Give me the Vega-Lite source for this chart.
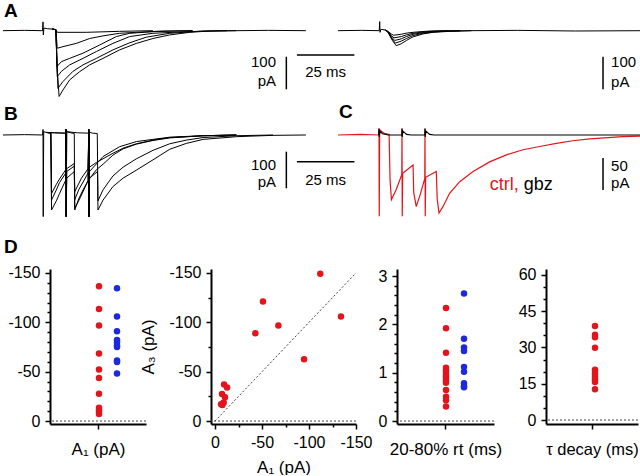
{
"$schema":"https://vega.github.io/schema/vega-lite/v6.json",
"padding":0,
"autosize":{"type":"pad"},
"background":"white",
"config":{
 "view":{"stroke":null},
 "font":"Liberation Sans",
 "text":{"font":"Liberation Sans","color":"black"},
 "title":{"font":"Liberation Sans","color":"black"},
 "axis":{"domainColor":"black","domainWidth":2,"tickColor":"black","tickWidth":1.5,"labelFont":"Liberation Sans","labelFontSize":16,"labelColor":"black","titleFont":"Liberation Sans","titleFontSize":17,"titleFontWeight":"normal","titleColor":"black","grid":false,"labelAngle":0}
},
"datasets":{
"A_left":[
{"trace":1,"t":-17.4,"pA":0},{"trace":1,"t":-8,"pA":1},{"trace":1,"t":-0.2,"pA":0},{"trace":1,"t":0,"pA":27},{"trace":1,"t":0.15,"pA":-13},{"trace":1,"t":0.4,"pA":8},{"trace":1,"t":2,"pA":6},{"trace":1,"t":4,"pA":5},{"trace":1,"t":5.6,"pA":3},{"trace":1,"t":6.2,"pA":-120},{"trace":1,"t":7,"pA":-202},{"trace":1,"t":8.7,"pA":-182},{"trace":1,"t":11.6,"pA":-151},{"trace":1,"t":15.9,"pA":-126},{"trace":1,"t":20.3,"pA":-105},{"trace":1,"t":26.1,"pA":-85},{"trace":1,"t":33.3,"pA":-59},{"trace":1,"t":40.6,"pA":-39},{"trace":1,"t":47.8,"pA":-24},{"trace":1,"t":55.1,"pA":-13},{"trace":1,"t":63.8,"pA":-5},{"trace":1,"t":72.5,"pA":-1},{"trace":1,"t":84.1,"pA":0},{"trace":1,"t":98,"pA":1},{"trace":1,"t":114.3,"pA":0},
{"trace":2,"t":4,"pA":5},{"trace":2,"t":5.6,"pA":3},{"trace":2,"t":6.5,"pA":-177},{"trace":2,"t":8.7,"pA":-156},{"trace":2,"t":13,"pA":-125},{"trace":2,"t":17.4,"pA":-105},{"trace":2,"t":23.2,"pA":-85},{"trace":2,"t":30.4,"pA":-59},{"trace":2,"t":37.7,"pA":-37},{"trace":2,"t":44.9,"pA":-20},{"trace":2,"t":55.1,"pA":-8},{"trace":2,"t":69.6,"pA":-1},{"trace":2,"t":84.1,"pA":0},
{"trace":3,"t":4,"pA":5},{"trace":3,"t":5.6,"pA":3},{"trace":3,"t":6.2,"pA":-141},{"trace":3,"t":8,"pA":-125},{"trace":3,"t":11.6,"pA":-105},{"trace":3,"t":17.4,"pA":-85},{"trace":3,"t":23.2,"pA":-64},{"trace":3,"t":30.4,"pA":-39},{"trace":3,"t":37.7,"pA":-18},{"trace":3,"t":47.8,"pA":-8},{"trace":3,"t":62.3,"pA":-3},{"trace":3,"t":80,"pA":0},
{"trace":4,"t":4,"pA":5},{"trace":4,"t":5.6,"pA":3},{"trace":4,"t":6.1,"pA":-110},{"trace":4,"t":8,"pA":-95},{"trace":4,"t":11.6,"pA":-85},{"trace":4,"t":17.4,"pA":-69},{"trace":4,"t":24.6,"pA":-44},{"trace":4,"t":31.9,"pA":-18},{"trace":4,"t":37.7,"pA":-8},{"trace":4,"t":47.8,"pA":-3},{"trace":4,"t":65,"pA":0},
{"trace":5,"t":4,"pA":5},{"trace":5,"t":5.6,"pA":3},{"trace":5,"t":6.2,"pA":-54},{"trace":5,"t":8.7,"pA":-49},{"trace":5,"t":14.5,"pA":-39},{"trace":5,"t":20.3,"pA":-24},{"trace":5,"t":26.1,"pA":-16},{"trace":5,"t":33.3,"pA":-8},{"trace":5,"t":40.6,"pA":-5},{"trace":5,"t":52.2,"pA":-1},{"trace":5,"t":65,"pA":0},
{"trace":6,"t":4,"pA":5},{"trace":6,"t":5.6,"pA":3},{"trace":6,"t":6.2,"pA":-5},{"trace":6,"t":18.8,"pA":-5},{"trace":6,"t":33.3,"pA":-2},{"trace":6,"t":47.8,"pA":0}
],
"A_right":[
{"trace":1,"t":-18.1,"pA":0},{"trace":1,"t":-8,"pA":1},{"trace":1,"t":-0.2,"pA":0},{"trace":1,"t":0,"pA":28},{"trace":1,"t":0.15,"pA":-5},{"trace":1,"t":0.5,"pA":4},{"trace":1,"t":2.5,"pA":2},{"trace":1,"t":3.6,"pA":-5},{"trace":1,"t":5.5,"pA":-30},{"trace":1,"t":7.2,"pA":-46},{"trace":1,"t":9.4,"pA":-40},{"trace":1,"t":11.6,"pA":-30},{"trace":1,"t":14.5,"pA":-19},{"trace":1,"t":18.8,"pA":-10},{"trace":1,"t":23.2,"pA":-5},{"trace":1,"t":30.4,"pA":-2},{"trace":1,"t":40,"pA":0},{"trace":1,"t":60,"pA":1},{"trace":1,"t":85,"pA":-1},{"trace":1,"t":114.5,"pA":0},
{"trace":2,"t":2.5,"pA":2},{"trace":2,"t":3.6,"pA":-4},{"trace":2,"t":5.3,"pA":-25},{"trace":2,"t":6.8,"pA":-38},{"trace":2,"t":9.4,"pA":-32},{"trace":2,"t":11.6,"pA":-24},{"trace":2,"t":14.5,"pA":-15},{"trace":2,"t":18.8,"pA":-8},{"trace":2,"t":23.2,"pA":-4},{"trace":2,"t":30.4,"pA":-1},{"trace":2,"t":40,"pA":0},
{"trace":3,"t":2.5,"pA":2},{"trace":3,"t":3.6,"pA":-4},{"trace":3,"t":5.2,"pA":-20},{"trace":3,"t":6.5,"pA":-30},{"trace":3,"t":9.4,"pA":-25},{"trace":3,"t":11.6,"pA":-18},{"trace":3,"t":14.5,"pA":-11},{"trace":3,"t":18.8,"pA":-6},{"trace":3,"t":23.2,"pA":-3},{"trace":3,"t":35,"pA":0},
{"trace":4,"t":2.5,"pA":2},{"trace":4,"t":3.6,"pA":-3},{"trace":4,"t":5,"pA":-15},{"trace":4,"t":6.2,"pA":-22},{"trace":4,"t":9.4,"pA":-18},{"trace":4,"t":11.6,"pA":-13},{"trace":4,"t":14.5,"pA":-8},{"trace":4,"t":18.8,"pA":-4},{"trace":4,"t":25,"pA":-1},{"trace":4,"t":35,"pA":0},
{"trace":5,"t":2.5,"pA":2},{"trace":5,"t":3.6,"pA":-2},{"trace":5,"t":5,"pA":-10},{"trace":5,"t":6,"pA":-14},{"trace":5,"t":9.4,"pA":-11},{"trace":5,"t":12,"pA":-7},{"trace":5,"t":16,"pA":-4},{"trace":5,"t":22,"pA":-1},{"trace":5,"t":30,"pA":0}
],
"B_tr":[
{"trace":1,"t":-17.4,"pA":0},{"trace":1,"t":-8,"pA":1},{"trace":1,"t":-0.2,"pA":0},{"trace":1,"t":0,"pA":15},{"trace":1,"t":0.1,"pA":-223},{"trace":1,"t":0.3,"pA":9},{"trace":1,"t":1.5,"pA":7},{"trace":1,"t":3.4,"pA":5},{"trace":1,"t":3.6,"pA":-100},{"trace":1,"t":3.7,"pA":-205},{"trace":1,"t":5.8,"pA":-180},{"trace":1,"t":7.2,"pA":-160},{"trace":1,"t":9.9,"pA":-123},{"trace":1,"t":10,"pA":15},{"trace":1,"t":10.1,"pA":-223},{"trace":1,"t":10.3,"pA":-118},{"trace":1,"t":13.6,"pA":-100},{"trace":1,"t":13.8,"pA":-200},{"trace":1,"t":15.5,"pA":-180},{"trace":1,"t":19.6,"pA":-125},{"trace":1,"t":19.9,"pA":15},{"trace":1,"t":20,"pA":-223},{"trace":1,"t":20.2,"pA":-118},{"trace":1,"t":23.7,"pA":-100},{"trace":1,"t":23.9,"pA":-205},{"trace":1,"t":26.1,"pA":-178},{"trace":1,"t":30.4,"pA":-141},{"trace":1,"t":34.8,"pA":-118},{"trace":1,"t":40.6,"pA":-96},{"trace":1,"t":47.8,"pA":-68},{"trace":1,"t":55.1,"pA":-39},{"trace":1,"t":62.3,"pA":-23},{"trace":1,"t":69.6,"pA":-12},{"trace":1,"t":84.1,"pA":-4.6},{"trace":1,"t":100,"pA":-1},{"trace":1,"t":114.3,"pA":0},
{"trace":2,"t":1.5,"pA":7},{"trace":2,"t":3.4,"pA":5},{"trace":2,"t":3.7,"pA":-178},{"trace":2,"t":5.8,"pA":-150},{"trace":2,"t":7.2,"pA":-130},{"trace":2,"t":9.9,"pA":-104},{"trace":2,"t":10,"pA":15},{"trace":2,"t":10.1,"pA":-223},{"trace":2,"t":10.3,"pA":-100},{"trace":2,"t":13.6,"pA":-85},{"trace":2,"t":13.8,"pA":-177},{"trace":2,"t":15.5,"pA":-150},{"trace":2,"t":19.6,"pA":-104},{"trace":2,"t":19.9,"pA":15},{"trace":2,"t":20,"pA":-223},{"trace":2,"t":20.2,"pA":-100},{"trace":2,"t":26.1,"pA":-59},{"trace":2,"t":33.3,"pA":-32},{"trace":2,"t":40.6,"pA":-18},{"trace":2,"t":47.8,"pA":-12},{"trace":2,"t":55.1,"pA":-6},{"trace":2,"t":69.6,"pA":-2},{"trace":2,"t":84.1,"pA":0},
{"trace":3,"t":1.5,"pA":7},{"trace":3,"t":5,"pA":6},{"trace":3,"t":9.9,"pA":5},{"trace":3,"t":10,"pA":15},{"trace":3,"t":10.1,"pA":-223},{"trace":3,"t":10.3,"pA":9},{"trace":3,"t":12,"pA":6},{"trace":3,"t":13.6,"pA":4},{"trace":3,"t":13.8,"pA":-205},{"trace":3,"t":15.5,"pA":-175},{"trace":3,"t":17.4,"pA":-150},{"trace":3,"t":19.6,"pA":-125},{"trace":3,"t":19.9,"pA":15},{"trace":3,"t":20,"pA":-223},{"trace":3,"t":20.2,"pA":-120},{"trace":3,"t":23.2,"pA":-95},{"trace":3,"t":26.1,"pA":-80},{"trace":3,"t":30.4,"pA":-55},{"trace":3,"t":34.8,"pA":-38},{"trace":3,"t":40.6,"pA":-25},{"trace":3,"t":47.8,"pA":-15},{"trace":3,"t":55.1,"pA":-8},{"trace":3,"t":69.6,"pA":-2},{"trace":3,"t":84.1,"pA":0},
{"trace":4,"t":1.5,"pA":7},{"trace":4,"t":3.4,"pA":5},{"trace":4,"t":3.7,"pA":-160},{"trace":4,"t":5.8,"pA":-135},{"trace":4,"t":7.2,"pA":-120},{"trace":4,"t":9.9,"pA":-95},{"trace":4,"t":10,"pA":15},{"trace":4,"t":10.1,"pA":-223},{"trace":4,"t":10.3,"pA":-92},{"trace":4,"t":13.6,"pA":-78},{"trace":4,"t":13.8,"pA":-155},{"trace":4,"t":16.7,"pA":-118},{"trace":4,"t":19.6,"pA":-92},{"trace":4,"t":19.9,"pA":15},{"trace":4,"t":20,"pA":-223},{"trace":4,"t":20.2,"pA":-88},{"trace":4,"t":23.2,"pA":-75},{"trace":4,"t":26.1,"pA":-65},{"trace":4,"t":30.4,"pA":-50},{"trace":4,"t":34.8,"pA":-36},{"trace":4,"t":40.6,"pA":-24},{"trace":4,"t":47.8,"pA":-14},{"trace":4,"t":55.1,"pA":-7},{"trace":4,"t":69.6,"pA":-2},{"trace":4,"t":84.1,"pA":0},
{"trace":5,"t":1.5,"pA":7},{"trace":5,"t":5,"pA":6},{"trace":5,"t":9.8,"pA":5},{"trace":5,"t":10,"pA":15},{"trace":5,"t":10.1,"pA":-223},{"trace":5,"t":10.3,"pA":9},{"trace":5,"t":15,"pA":6},{"trace":5,"t":19.8,"pA":5},{"trace":5,"t":19.9,"pA":15},{"trace":5,"t":20,"pA":-223},{"trace":5,"t":20.2,"pA":8},{"trace":5,"t":21.5,"pA":5},{"trace":5,"t":23.6,"pA":4},{"trace":5,"t":23.9,"pA":-180},{"trace":5,"t":26.1,"pA":-150},{"trace":5,"t":30.4,"pA":-112},{"trace":5,"t":34.8,"pA":-88},{"trace":5,"t":40.6,"pA":-65},{"trace":5,"t":47.8,"pA":-42},{"trace":5,"t":55.1,"pA":-24},{"trace":5,"t":62.3,"pA":-14},{"trace":5,"t":69.6,"pA":-7},{"trace":5,"t":84.1,"pA":-2},{"trace":5,"t":100,"pA":0}
],
"C_tr":[
{"cond":"ctrl","t":-17.8,"pA":0},{"cond":"ctrl","t":-8,"pA":1},{"cond":"ctrl","t":-0.2,"pA":0},{"cond":"ctrl","t":0,"pA":10},{"cond":"ctrl","t":0.1,"pA":-127},{"cond":"ctrl","t":0.3,"pA":8},{"cond":"ctrl","t":2,"pA":3},{"cond":"ctrl","t":4.4,"pA":1},{"cond":"ctrl","t":4.8,"pA":-70},{"cond":"ctrl","t":5.4,"pA":-101},{"cond":"ctrl","t":7.5,"pA":-85},{"cond":"ctrl","t":9.9,"pA":-62},{"cond":"ctrl","t":10,"pA":10},{"cond":"ctrl","t":10.1,"pA":-127},{"cond":"ctrl","t":10.3,"pA":-60},{"cond":"ctrl","t":14.8,"pA":-47},{"cond":"ctrl","t":15.1,"pA":-90},{"cond":"ctrl","t":16.2,"pA":-112},{"cond":"ctrl","t":18,"pA":-92},{"cond":"ctrl","t":19.9,"pA":-68},{"cond":"ctrl","t":20,"pA":10},{"cond":"ctrl","t":20.1,"pA":-127},{"cond":"ctrl","t":20.3,"pA":-66},{"cond":"ctrl","t":24.9,"pA":-57},{"cond":"ctrl","t":25.3,"pA":-100},{"cond":"ctrl","t":26.1,"pA":-122},{"cond":"ctrl","t":27.8,"pA":-112},{"cond":"ctrl","t":30.7,"pA":-91},{"cond":"ctrl","t":35.1,"pA":-73},{"cond":"ctrl","t":40.9,"pA":-57},{"cond":"ctrl","t":48.1,"pA":-42},{"cond":"ctrl","t":55.4,"pA":-31},{"cond":"ctrl","t":62.6,"pA":-23},{"cond":"ctrl","t":69.9,"pA":-18},{"cond":"ctrl","t":77.1,"pA":-13},{"cond":"ctrl","t":84.3,"pA":-9},{"cond":"ctrl","t":91.6,"pA":-6},{"cond":"ctrl","t":106,"pA":-2.6},{"cond":"ctrl","t":114.8,"pA":-1.6},
{"cond":"gbz","t":-0.2,"pA":0},{"cond":"gbz","t":0,"pA":10},{"cond":"gbz","t":0.1,"pA":-3},{"cond":"gbz","t":0.4,"pA":6},{"cond":"gbz","t":1.5,"pA":2},{"cond":"gbz","t":4,"pA":0},{"cond":"gbz","t":9.9,"pA":0},{"cond":"gbz","t":10,"pA":10},{"cond":"gbz","t":10.1,"pA":-3},{"cond":"gbz","t":10.4,"pA":6},{"cond":"gbz","t":12,"pA":1},{"cond":"gbz","t":14,"pA":0},{"cond":"gbz","t":19.9,"pA":0},{"cond":"gbz","t":20,"pA":10},{"cond":"gbz","t":20.1,"pA":-3},{"cond":"gbz","t":20.4,"pA":6},{"cond":"gbz","t":22,"pA":1},{"cond":"gbz","t":24,"pA":0},{"cond":"gbz","t":60,"pA":0},{"cond":"gbz","t":114.8,"pA":0}
],
"bars":[
{"panel":"A_left","t":105.8,"pA":-80,"t2":105.8,"pA2":-180},
{"panel":"A_left","t":110.4,"pA":-74.6,"t2":135.4,"pA2":-74.6},
{"panel":"A_right","t":97.1,"pA":-80,"t2":97.1,"pA2":-180},
{"panel":"B","t":105.8,"pA":-45.6,"t2":105.8,"pA2":-145.6},
{"panel":"B","t":110.4,"pA":-73,"t2":135.4,"pA2":-73},
{"panel":"C","t":97.4,"pA":-36,"t2":97.4,"pA2":-86}
],
"notes":[
{"panel":"A_left","kind":"letter","txt":"A","t":-17,"pA":60.5},
{"panel":"A_left","kind":"unit_r","txt":"100","t":101.3,"pA":-96},
{"panel":"A_left","kind":"unit_r","txt":"pA","t":101.3,"pA":-154},
{"panel":"A_left","kind":"time","txt":"25 ms","t":122.9,"pA":-127},
{"panel":"A_right","kind":"unit_l","txt":"100","t":100.6,"pA":-96},
{"panel":"A_right","kind":"unit_l","txt":"pA","t":100.6,"pA":-157},
{"panel":"B","kind":"letter","txt":"B","t":-17,"pA":57.4},
{"panel":"B","kind":"unit_r","txt":"100","t":101.3,"pA":-82},
{"panel":"B","kind":"unit_r","txt":"pA","t":101.3,"pA":-128.4},
{"panel":"B","kind":"time","txt":"25 ms","t":122.9,"pA":-123},
{"panel":"C","kind":"letter","txt":"C","t":-17.4,"pA":36},
{"panel":"C","kind":"unit_l","txt":"50","t":100.9,"pA":-48.4},
{"panel":"C","kind":"unit_l","txt":"pA","t":100.9,"pA":-75},
{"panel":"C","kind":"ctrl","txt":"ctrl,","t":48.1,"pA":-78},
{"panel":"C","kind":"gbz","txt":"gbz","t":62.9,"pA":-78}
],
"amp1":[
{"cond":"ctrl","A1":-136.5},{"cond":"ctrl","A1":-113.5},{"cond":"ctrl","A1":-96.7},{"cond":"ctrl","A1":-68.4},{"cond":"ctrl","A1":-52.2},{"cond":"ctrl","A1":-43.5},{"cond":"ctrl","A1":-27.6},{"cond":"ctrl","A1":-13.5},{"cond":"ctrl","A1":-11.1},{"cond":"ctrl","A1":-9.4},{"cond":"ctrl","A1":-7.1},
{"cond":"gbz","A1":-134.5},{"cond":"gbz","A1":-105.8},{"cond":"gbz","A1":-91},{"cond":"gbz","A1":-82.2},{"cond":"gbz","A1":-79.9},{"cond":"gbz","A1":-76.8},{"cond":"gbz","A1":-75.1},{"cond":"gbz","A1":-61.4},{"cond":"gbz","A1":-59.7},{"cond":"gbz","A1":-48.2}
],
"amp13":[
{"A1":-112,"A3":-149.3},{"A1":-134,"A3":-105.8},{"A1":-51,"A3":-121},{"A1":-42.9,"A3":-89},{"A1":-67.4,"A3":-96.7},{"A1":-94.7,"A3":-62.7},{"A1":-9.6,"A3":-37.1},{"A1":-12.8,"A3":-34},{"A1":-7.4,"A3":-27.3},{"A1":-10.6,"A3":-24},{"A1":-9.2,"A3":-18.9},{"A1":-7.8,"A3":-16.2},{"A1":-6.4,"A3":-16.9}
],
"rt":[
{"cond":"ctrl","rt":2.34},{"cond":"ctrl","rt":1.92},{"cond":"ctrl","rt":1.41},{"cond":"ctrl","rt":1.1},{"cond":"ctrl","rt":1.05},{"cond":"ctrl","rt":1.0},{"cond":"ctrl","rt":0.94},{"cond":"ctrl","rt":0.9},{"cond":"ctrl","rt":0.84},{"cond":"ctrl","rt":0.79},{"cond":"ctrl","rt":0.64},{"cond":"ctrl","rt":0.5},{"cond":"ctrl","rt":0.43},{"cond":"ctrl","rt":0.3},
{"cond":"gbz","rt":2.64},{"cond":"gbz","rt":1.7},{"cond":"gbz","rt":1.52},{"cond":"gbz","rt":1.45},{"cond":"gbz","rt":1.12},{"cond":"gbz","rt":1.02},{"cond":"gbz","rt":0.78},{"cond":"gbz","rt":0.72},{"cond":"gbz","rt":0.7}
],
"tau":[
{"cond":"ctrl","tau":38.8},{"cond":"ctrl","tau":35.2},{"cond":"ctrl","tau":34.2},{"cond":"ctrl","tau":29.9},{"cond":"ctrl","tau":20.8},{"cond":"ctrl","tau":19.9},{"cond":"ctrl","tau":18.9},{"cond":"ctrl","tau":17.8},{"cond":"ctrl","tau":16.7},{"cond":"ctrl","tau":15.7},{"cond":"ctrl","tau":12.7}
]
},
"spacing":0,
"vconcat":[
{"hconcat":[
 {"width":273,"height":100,
  "encoding":{"x":{"field":"t","type":"quantitative","scale":{"domain":[3.043,121.74],"nice":false,"zero":false},"axis":null},
              "y":{"field":"pA","type":"quantitative","scale":{"domain":[-212.8,94.2],"nice":false,"zero":false},"axis":null}},
  "layer":[
   {"data":{"name":"A_left"},"mark":{"type":"line","color":"black","strokeWidth":1},"encoding":{"detail":{"field":"trace","type":"nominal"}}},
   {"data":{"name":"bars"},"transform":[{"filter":"datum.panel==='A_left'"}],"mark":{"type":"rule","color":"black","strokeWidth":1.5},"encoding":{"x2":{"field":"t2"},"y2":{"field":"pA2"}}},
   {"data":{"name":"notes"},"transform":[{"filter":"datum.panel==='A_left' && datum.kind==='unit_r'"}],"mark":{"type":"text","align":"right","baseline":"middle","fontSize":15},"encoding":{"text":{"field":"txt"}}},
   {"data":{"name":"notes"},"transform":[{"filter":"datum.panel==='A_left' && datum.kind==='time'"}],"mark":{"type":"text","align":"center","baseline":"middle","fontSize":15},"encoding":{"text":{"field":"txt"}}},
   {"data":{"name":"notes"},"transform":[{"filter":"datum.panel==='A_left' && datum.kind==='letter'"}],"mark":{"type":"text","align":"left","baseline":"middle","fontSize":19,"fontWeight":"bold"},"encoding":{"text":{"field":"txt"}}}
  ]},
 {"width":320,"height":100,
  "encoding":{"x":{"field":"t","type":"quantitative","scale":{"domain":[-24.65,114.48],"nice":false,"zero":false},"axis":null},
              "y":{"field":"pA","type":"quantitative","scale":{"domain":[-212.8,94.2],"nice":false,"zero":false},"axis":null}},
  "layer":[
   {"data":{"name":"A_right"},"mark":{"type":"line","color":"black","strokeWidth":1},"encoding":{"detail":{"field":"trace","type":"nominal"}}},
   {"data":{"name":"bars"},"transform":[{"filter":"datum.panel==='A_right'"}],"mark":{"type":"rule","color":"black","strokeWidth":1.5},"encoding":{"x2":{"field":"t2"},"y2":{"field":"pA2"}}},
   {"data":{"name":"notes"},"transform":[{"filter":"datum.panel==='A_right' && datum.kind==='unit_l'"}],"mark":{"type":"text","align":"left","baseline":"middle","fontSize":15},"encoding":{"text":{"field":"txt"}}}
  ]}
 ],"spacing":0,"bounds":"flush"},
{"hconcat":[
 {"width":273,"height":137,
  "encoding":{"x":{"field":"t","type":"quantitative","scale":{"domain":[3.043,121.74],"nice":false,"zero":false},"axis":null},
              "y":{"field":"pA","type":"quantitative","scale":{"domain":[-278.7,95.6],"nice":false,"zero":false},"axis":null}},
  "layer":[
   {"data":{"name":"B_tr"},"mark":{"type":"line","color":"black","strokeWidth":1},"encoding":{"detail":{"field":"trace","type":"nominal"}}},
   {"data":{"name":"bars"},"transform":[{"filter":"datum.panel==='B'"}],"mark":{"type":"rule","color":"black","strokeWidth":1.5},"encoding":{"x2":{"field":"t2"},"y2":{"field":"pA2"}}},
   {"data":{"name":"notes"},"transform":[{"filter":"datum.panel==='B' && datum.kind==='unit_r'"}],"mark":{"type":"text","align":"right","baseline":"middle","fontSize":15},"encoding":{"text":{"field":"txt"}}},
   {"data":{"name":"notes"},"transform":[{"filter":"datum.panel==='B' && datum.kind==='time'"}],"mark":{"type":"text","align":"center","baseline":"middle","fontSize":15},"encoding":{"text":{"field":"txt"}}},
   {"data":{"name":"notes"},"transform":[{"filter":"datum.panel==='B' && datum.kind==='letter'"}],"mark":{"type":"text","align":"left","baseline":"middle","fontSize":19,"fontWeight":"bold"},"encoding":{"text":{"field":"txt"}}}
  ]},
 {"width":320,"height":137,
  "encoding":{"x":{"field":"t","type":"quantitative","scale":{"domain":[-24.35,114.78],"nice":false,"zero":false},"axis":null},
              "y":{"field":"pA","type":"quantitative","scale":{"domain":[-159.4,54.7],"nice":false,"zero":false},"axis":null}},
  "layer":[
   {"data":{"name":"C_tr"},"transform":[{"filter":"datum.cond==='ctrl'"}],"mark":{"type":"line","color":"#e4141c","strokeWidth":1.2}},
   {"data":{"name":"C_tr"},"transform":[{"filter":"datum.cond==='gbz'"}],"mark":{"type":"line","color":"black","strokeWidth":1.1}},
   {"data":{"name":"bars"},"transform":[{"filter":"datum.panel==='C'"}],"mark":{"type":"rule","color":"black","strokeWidth":1.5},"encoding":{"x2":{"field":"t2"},"y2":{"field":"pA2"}}},
   {"data":{"name":"notes"},"transform":[{"filter":"datum.panel==='C' && datum.kind==='unit_l'"}],"mark":{"type":"text","align":"left","baseline":"middle","fontSize":15},"encoding":{"text":{"field":"txt"}}},
   {"data":{"name":"notes"},"transform":[{"filter":"datum.panel==='C' && datum.kind==='ctrl'"}],"mark":{"type":"text","align":"left","baseline":"middle","fontSize":18,"color":"#e4141c"},"encoding":{"text":{"field":"txt"}}},
   {"data":{"name":"notes"},"transform":[{"filter":"datum.panel==='C' && datum.kind==='gbz'"}],"mark":{"type":"text","align":"left","baseline":"middle","fontSize":18,"color":"black"},"encoding":{"text":{"field":"txt"}}},
   {"data":{"name":"notes"},"transform":[{"filter":"datum.panel==='C' && datum.kind==='letter'"}],"mark":{"type":"text","align":"left","baseline":"middle","fontSize":19,"fontWeight":"bold"},"encoding":{"text":{"field":"txt"}}}
  ]}
 ],"spacing":0,"bounds":"flush"},
{"hconcat":[
 {"width":96,"height":155,
  "title":{"text":"D","anchor":"start","frame":"bounds","fontSize":19,"fontWeight":"bold","offset":8,"dx":-4},
  "layer":[
   {"data":{"values":[{}]},"mark":{"type":"rule","strokeDash":[2,2],"color":"#444","strokeWidth":1},
    "encoding":{"y":{"datum":0,"type":"quantitative","scale":{"domain":[3,-154],"nice":false,"zero":false},
      "axis":{"orient":"left","values":[-140,-130,-120,-110,-90,-80,-70,-60,-40,-30,-20,-10],"labels":false,"domain":false,"tickSize":3,"title":null}}}},
   {"data":{"name":"amp1"},"mark":{"type":"circle","size":42,"opacity":1},
    "encoding":{
     "x":{"datum":"A1","type":"nominal","scale":{"type":"band","paddingInner":0,"paddingOuter":0},"axis":{"labels":false,"tickSize":5,"title":"A₁ (pA)","titlePadding":12}},
     "xOffset":{"field":"cond","type":"nominal","scale":{"type":"point","domain":["ctrl","gbz"],"range":[49,67],"padding":0}},
     "y":{"field":"A1","type":"quantitative","scale":{"domain":[3,-154],"nice":false,"zero":false},"axis":{"orient":"left","values":[-150,-100,-50,0],"format":"d","labelExpr":"replace(datum.label,'\u2212','-')","tickSize":5,"labelPadding":5,"title":null}},
     "color":{"field":"cond","type":"nominal","scale":{"domain":["ctrl","gbz"],"range":["#e4141c","#1e28dc"]},"legend":null}}}
  ],
  "resolve":{"axis":{"y":"independent"}}},
 {"width":145,"height":155,
  "layer":[
   {"data":{"values":[{}]},"mark":{"type":"rule","strokeDash":[2,2],"color":"#444","strokeWidth":1},
    "encoding":{"y":{"datum":0,"type":"quantitative","scale":{"domain":[3,-154],"nice":false,"zero":false},"axis":null}}},
   {"data":{"values":[{}]},"mark":{"type":"rule","strokeDash":[2,2],"color":"#444","strokeWidth":1},
    "encoding":{
     "x":{"datum":0,"type":"quantitative","scale":{"domain":[4.3,-150],"nice":false,"zero":false},"axis":{"orient":"bottom","values":[-25,-75,-125],"labels":false,"domain":false,"tickSize":3,"title":null}},
     "x2":{"datum":-150},
     "y":{"datum":0,"type":"quantitative","scale":{"domain":[3,-154],"nice":false,"zero":false},"axis":{"orient":"left","values":[-25,-75,-125],"labels":false,"domain":false,"tickSize":3,"title":null}},
     "y2":{"datum":-150}}},
   {"data":{"name":"amp13"},"mark":{"type":"circle","size":42,"opacity":1,"color":"#e4141c"},
    "encoding":{
     "x":{"field":"A1","type":"quantitative","scale":{"domain":[4.3,-150],"nice":false,"zero":false},"axis":{"orient":"bottom","values":[0,-50,-100,-150],"format":"d","labelExpr":"replace(datum.label,'\u2212','-')","labelFlush":false,"tickSize":5,"labelPadding":5,"title":"A₁ (pA)","titlePadding":9}},
     "y":{"field":"A3","type":"quantitative","scale":{"domain":[3,-154],"nice":false,"zero":false},"axis":{"orient":"left","values":[-150,-100,-50,0],"format":"d","labelExpr":"replace(datum.label,'\u2212','-')","tickSize":5,"labelPadding":5,"title":"A₃ (pA)","titlePadding":11}}}}
  ],
  "resolve":{"axis":{"x":"independent","y":"independent"}}},
 {"width":97,"height":155,
  "layer":[
   {"data":{"values":[{}]},"mark":{"type":"rule","strokeDash":[2,2],"color":"#444","strokeWidth":1},
    "encoding":{"y":{"datum":0,"type":"quantitative","scale":{"domain":[-0.062,3.145],"nice":false,"zero":false},
      "axis":{"orient":"left","values":[0.2,0.4,0.6,0.8,1.2,1.4,1.6,1.8,2.2,2.4,2.6,2.8],"labels":false,"domain":false,"tickSize":3,"title":null}}}},
   {"data":{"name":"rt"},"mark":{"type":"circle","size":42,"opacity":1},
    "encoding":{
     "x":{"datum":"rt","type":"nominal","scale":{"type":"band","paddingInner":0,"paddingOuter":0},"axis":{"labels":false,"tickSize":5,"title":"20-80% rt (ms)","titlePadding":12}},
     "xOffset":{"field":"cond","type":"nominal","scale":{"type":"point","domain":["ctrl","gbz"],"range":[49,68],"padding":0}},
     "y":{"field":"rt","type":"quantitative","scale":{"domain":[-0.062,3.145],"nice":false,"zero":false},"axis":{"orient":"left","values":[0,1,2,3],"format":"d","tickSize":5,"labelPadding":5,"title":null,"minExtent":32}},
     "color":{"field":"cond","type":"nominal","scale":{"domain":["ctrl","gbz"],"range":["#e4141c","#1e28dc"]},"legend":null}}}
  ],
  "resolve":{"axis":{"y":"independent"}}},
 {"width":92,"height":155,
  "layer":[
   {"data":{"values":[{}]},"mark":{"type":"rule","strokeDash":[2,2],"color":"#444","strokeWidth":1},
    "encoding":{"y":{"datum":0,"type":"quantitative","scale":{"domain":[-1.65,62.4],"nice":false,"zero":false},
      "axis":{"orient":"left","values":[5,10,20,25,35,40,50,55],"labels":false,"domain":false,"tickSize":3,"title":null}}}},
   {"data":{"name":"tau"},"mark":{"type":"circle","size":42,"opacity":1},
    "encoding":{
     "x":{"datum":"tau","type":"nominal","scale":{"type":"band","paddingInner":0,"paddingOuter":0},"axis":{"labels":false,"tickSize":5,"title":"τ decay (ms)","titlePadding":12,"titleFontSize":16.5}},
     "xOffset":{"field":"cond","type":"nominal","scale":{"type":"point","domain":["ctrl","gbz"],"range":[47,65],"padding":0}},
     "y":{"field":"tau","type":"quantitative","scale":{"domain":[-1.65,62.4],"nice":false,"zero":false},"axis":{"orient":"left","values":[0,15,30,45,60],"format":"d","tickSize":5,"labelPadding":5,"title":null,"minExtent":52}},
     "color":{"field":"cond","type":"nominal","scale":{"domain":["ctrl","gbz"],"range":["#e4141c","#1e28dc"]},"legend":null}}}
  ],
  "resolve":{"axis":{"y":"independent"}}}
 ],"spacing":-8}
]
}
